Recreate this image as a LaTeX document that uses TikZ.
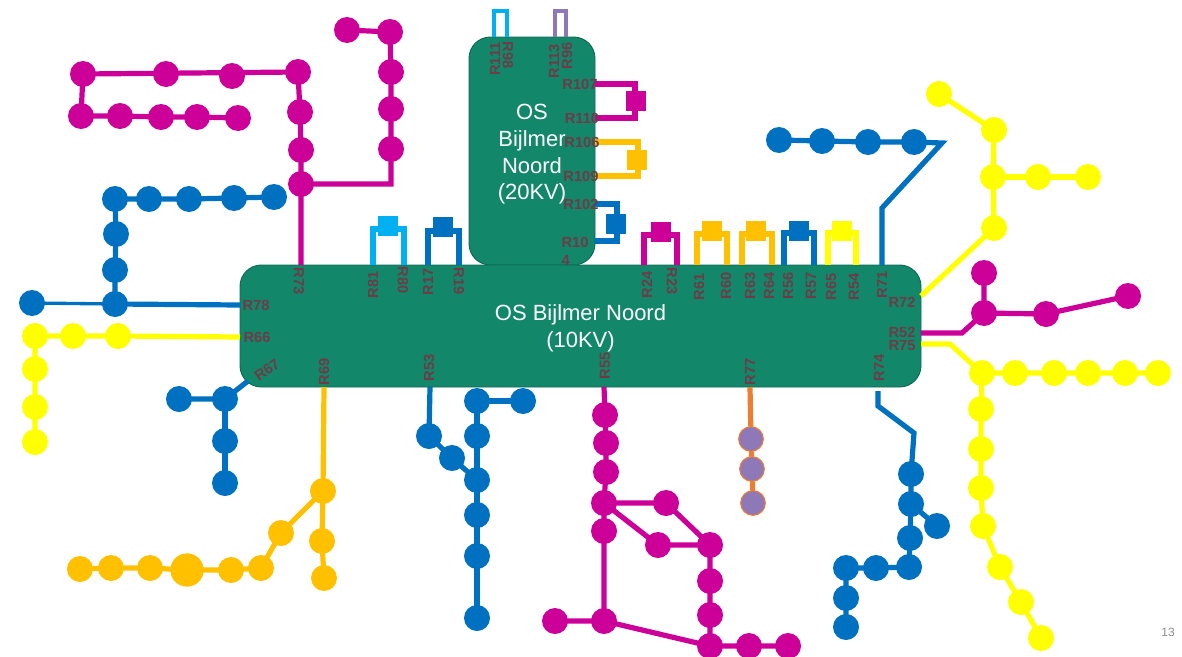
\documentclass[tikz,border=0pt]{standalone}
\usepackage{fontspec}
\setmainfont{Liberation Sans}
\usepackage{xcolor}
\usetikzlibrary{positioning}
\definecolor{station}  {HTML}{12876A}
\definecolor{stationd} {HTML}{0E6A55}
\definecolor{reftext}  {HTML}{6E3B48}
\definecolor{plum}     {HTML}{CC0099}
\definecolor{cblue}    {HTML}{0070C0}
\definecolor{sky}      {HTML}{00B0F0}
\definecolor{lemon}    {HTML}{FFFF00}
\definecolor{amber}    {HTML}{FFC000}
\definecolor{lilac}    {HTML}{8E78B8}
\definecolor{rust}     {HTML}{ED7D31}
\definecolor{pagenr}   {HTML}{8C8C8C}
\tikzset{
  body/.style   = {rectangle, rounded corners=16pt, fill=station, draw=stationd, line width=0.7pt},
  title/.style  = {text=white, align=center, font=\fontsize{16.5}{20}\selectfont, inner sep=0pt},
  bead/.style   = {circle, inner sep=0pt, outer sep=-2pt, minimum size=19.5pt},
  pad/.style    = {rectangle, inner sep=0pt, minimum size=15.7pt},
  wire/.style   = {line width=3.9pt},
  reftag/.style = {font=\fontsize{11}{13.5}\selectfont\bfseries, text=reftext, align=left, inner sep=0pt},
}

\begin{document}
\begin{tikzpicture}[x=0.75pt,y=-0.75pt]
  \useasboundingbox (0,0) rectangle (1182,657);

  % stations
  \node[body, minimum width=94.5pt, minimum height=171pt] (os20) at (532,151) {};
  \node[body, minimum width=510.75pt, minimum height=91.5pt] (os10) at (580.5,326) {};
  \node[title] (t20) at (532,154.5) {OS\\Bijlmer\\Noord\\(20KV)};
  \node[title] (t10) at (580.5,328.5) {OS Bijlmer Noord\\(10KV)};

  % beads
  \foreach \nm/\px/\py in {ma/83/74, mb/166/74, mc/232/76, md/298/72, me/81/116, mf/120/116, mg/161/117,
      mh/197/117, mi/238/118, mj/300/112, mk/301/150, ml/301/184, mm/391/149, mn/391/109, mo/391/72,
      mp/390/32, mq/347/30, na/605/415, nb/606/443, nc/606/472, nd/604/503, ne/604/531, nf/555/621,
      ng/604/621, nh/666/503, ni/658/545, nj/710/545, nk/710/581, nl/710/615, nm/710/646, nn/749/646,
      no/788/646, oa/984/273, ob/984/313, oc/1046/314, od/1128/296}
    \node[bead, fill=plum] (\nm) at (\px,\py) {};
  \foreach \nm/\px/\py in {ba/115/199, bb/149/199, bc/189/199, bd/234/198, be/274/197, bf/116/234,
      bg/115/270, bh/115/304, bi/32/303, ca/179/399, cb/225/399, cc/225/441, cd/225/483, da/429/436,
      db/452/458, dc/477/480, dd/477/401, de/523/401, df/477/436, dg/477/515, dh/477/556, di/477/618,
      ea/911/474, eb/911/504, ec/937/526, ed/910/538, ee/909/567, ef/876/568, eg/846/568, eh/846/598,
      ei/846/627, fa/914/142, fb/868/142, fc/822/141, fd/779/140}
    \node[bead, fill=cblue] (\nm) at (\px,\py) {};
  \foreach \nm/\px/\py in {ya/118/336, yb/73/336, yc/35/336, yd/35/369, ye/35/407, yf/35/442,
      ra/982/373, rb/1015/373, rc/1054/373, rd/1088/373, re/1125/373, rf/1158/373, rg/981/409,
      rh/981/449, ri/981/488, rj/983/526, rk/1000/567, rl/1021/602, rm/1041/638,
      sa/994/228, sb/993/177, sc/1038/177, sd/1088/177, se/994/130, sf/939/94}
    \node[bead, fill=lemon] (\nm) at (\px,\py) {};
  \foreach \nm/\px/\py in {ga/323/491, gb/322/541, gc/324/578, gd/281/533, ge/261/568, gf/231/570,
      gh/150/568, gi/111/568, gj/80/569}
    \node[bead, fill=amber] (\nm) at (\px,\py) {};
  \node[bead, fill=amber, minimum size=25pt] (gg) at (187,570) {};
  \foreach \nm/\px/\py in {ua/751/439, ub/752/469, uc/753/503}
    \node[bead, fill=lilac, draw=rust, line width=0.8pt, outer sep=0pt, minimum size=18.5pt] (\nm) at (\px,\py) {};

  % ends on the stations and bends
  \foreach \nm/\px/\py in {p73/301/265, p78/240/305, p66/240/337, p67/248/381, p69/324/387, p53/430/387,
      p55/604/387, p77/750/387, p74/878/391, p75/921/344, p52/921/333, p72/921/296, p71/882/265,
      k73/391/184, k74/878/406, k75/950/344, k52/962/333, k71/882/208, k71b/942/143, k74b/914/433}
    \coordinate (\nm) at (\px,\py);

  % feeders
  \draw[wire, plum] (ma) -- (md) -- (mj) -- (mk) -- (ml) -- (p73);
  \draw[wire, plum] (ma) -- (me) -- (mf) -- (mg) -- (mh) -- (mi);
  \draw[wire, plum] (ml) -- (k73) -- (mm) -- (mn) -- (mo) -- (mp) -- (mq);
  \draw[wire, plum] (p55) -- (na) -- (nb) -- (nc) -- (nd) -- (ne) -- (ng) -- (nf);
  \draw[wire, plum] (nd) -- (nh) -- (nj);
  \draw[wire, plum] (nd) -- (ni) -- (nj) -- (nk) -- (nl) -- (nm) -- (nn) -- (no);
  \draw[wire, plum] (ng) -- (nm);
  \draw[wire, plum] (p52) -- (k52) -- (ob) -- (oa);
  \draw[wire, plum] (ob) -- (oc) -- (od);

  \draw[wire, line width=2.5pt, cblue] (bi) -- (bh);
  \draw[wire, cblue] (bh) -- (p78);
  \draw[wire, cblue] (bh) -- (bg) -- (bf) -- (ba) -- (bb) -- (bc) -- (bd) -- (be);
  \draw[wire, cblue] (p67) -- (cb) -- (ca);
  \draw[wire, cblue] (cb) -- (cc) -- (cd);
  \draw[wire, cblue] (p53) -- (da) -- (db) -- (dc);
  \draw[wire, cblue] (de) -- (dd) -- (df) -- (dc) -- (dg) -- (dh) -- (di);
  \draw[wire, cblue] (p74) -- (k74) -- (k74b) -- (ea) -- (eb) -- (ed) -- (ee) -- (ef) -- (eg) -- (eh) -- (ei);
  \draw[wire, cblue] (eb) -- (ec);
  \draw[wire, cblue] (p71) -- (k71) -- (k71b) -- (fa) -- (fb) -- (fc) -- (fd);

  \draw[wire, lemon] (p66) -- (ya) -- (yb) -- (yc) -- (yd) -- (ye) -- (yf);
  \draw[wire, lemon] (p75) -- (k75) -- (ra) -- (rb) -- (rc) -- (rd) -- (re) -- (rf);
  \draw[wire, lemon] (ra) -- (rg) -- (rh) -- (ri) -- (rj) -- (rk) -- (rl) -- (rm);
  \draw[wire, lemon] (p72) -- (sa) -- (sb) -- (se) -- (sf);
  \draw[wire, lemon] (sb) -- (sc) -- (sd);

  \draw[wire, amber] (p69) -- (ga) -- (gb) -- (gc);
  \draw[wire, amber] (ga) -- (gd) -- (ge) -- (gf) -- (gg) -- (gh) -- (gi) -- (gj);

  \draw[wire, rust] (p77) -- (ua) -- (ub) -- (uc);

  % loops above the 10KV station
  \foreach \nm/\col/\xa/\xb/\xs/\ys/\yl in {sa81/sky/373/404/388/226/229, sa17/cblue/428/459/443/227/231,
      sa24/plum/644/677/661/232/235, sa61/amber/697/727/712/231/234, sa63/amber/742/772/756/231/234,
      sa56/cblue/784/814/799/231/233, sa65/lemon/828/856/842/231/233} {
    \node[pad, fill=\col] (\nm) at (\xs,\ys) {};
    \coordinate (\nm a) at (\xa,265);
    \coordinate (\nm b) at (\xb,265);
    \coordinate (\nm c) at (\xs,\yl);
    \draw[wire, \col] (\nm a) |- (\nm c) -| (\nm b);
  }

  % loops right of the 20KV station
  \foreach \nm/\col/\ya/\yb/\xl/\xs/\ys in {sb07/plum/84/118/635/636/101, sb06/amber/142/176/638/637/160,
      sb02/cblue/204/241/617/616/224} {
    \node[pad, fill=\col] (\nm) at (\xs,\ys) {};
    \coordinate (\nm a) at (595,\ya);
    \coordinate (\nm b) at (595,\yb);
    \coordinate (\nm c) at (\xl,\ys);
    \draw[wire, \col] (\nm a) -| (\nm c) |- (\nm b);
  }

  % loops above the 20KV station
  \foreach \nm/\col/\xa/\xb in {sc11/sky/494/507, sc13/lilac/555/566} {
    \coordinate (\nm a) at (\xa,37);
    \coordinate (\nm b) at (\xb,37);
    \coordinate (\nm c) at (\xa,11);
    \draw[wire, line width=3.6pt, \col] (\nm a) |- (\nm c) -| (\nm b);
  }

  % references
  \foreach \nm/\px/\py/\rt in {73/299/281/-90, 81/373/285/90, 80/403/280/-90, 17/428/282/90, 19/459/281/-90,
      24/647/285/90, 23/672/281/-90, 61/699/287/90, 60/726/286/90, 63/750/286/90, 64/769/286/90,
      56/788/286/90, 57/811/286/90, 65/831/287/90, 54/854/287/90, 71/882/285/90, 72/902/302/0,
      52/902/332/0, 75/902/346/0, 74/879/368/90, 77/750/372/90, 55/605/366/90, 53/429/368/90,
      69/324/372/90, 67/267/370/35, 78/256/305/0, 66/257/337/0, 111/495/59/90, 98/508/55/-90,
      113/554/61/90, 96/567/56/90, 107/580/84/0, 110/582/118/0, 106/582/142/0, 109/581/176/0,
      102/581/204/0}
    \node[reftag, rotate=\rt] (r\nm) at (\px,\py) {R\nm};
  \node[reftag] (r104) at (575,251) {R10\\4};

  \node[font=\fontsize{9}{11}\selectfont, text=pagenr, inner sep=0pt] (pnum) at (1168,632) {13};
\end{tikzpicture}
\end{document}
